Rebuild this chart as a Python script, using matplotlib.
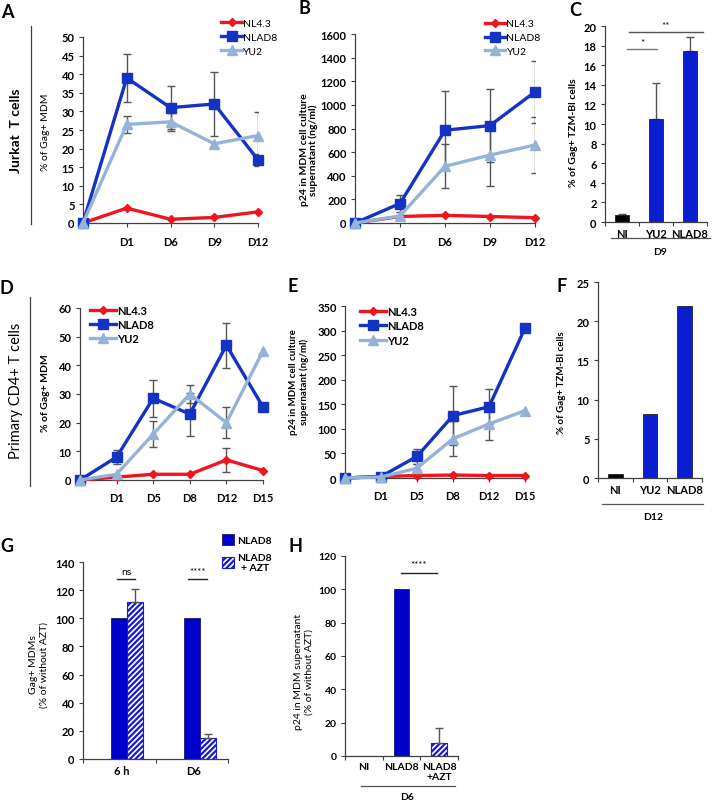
import numpy as np
import matplotlib
matplotlib.use("Agg")
import matplotlib.pyplot as plt
from matplotlib.lines import Line2D

plt.rcParams['font.family'] = ['Lato', 'DejaVu Sans']
plt.rcParams['hatch.linewidth'] = 1.6

# ---------------- data ----------------
A_days = ['', 'D1', 'D6', 'D9', 'D12']
A_nl43 = [0, 4, 1, 1.5, 3]
A_nlad8 = [0, 39, 31, 32, 17]
A_nlad8_err = [0, 6.5, 5.7, 8.7, 1.6]
A_yu2 = [0, 26.5, 27.2, 21.3, 23.5]
A_yu2_err = [0, 2.3, 2.4, 0, 6.3]

B_days = ['', 'D1', 'D6', 'D9', 'D12']
B_nl43 = [0, 55, 65, 55, 45]
B_nlad8 = [0, 165, 785, 825, 1110]
B_nlad8_err = [0, 70, 330, 310, 265]
B_yu2 = [0, 60, 480, 575, 660]
B_yu2_err = [0, 0, 185, 265, 240]

C_cats = ['NI', 'YU2', 'NLAD8']
C_vals = [0.7, 10.5, 17.5]
C_err = [0.1, 3.7, 1.4]

D_days = ['', 'D1', 'D5', 'D8', 'D12', 'D15']
D_nl43 = [0, 1, 2, 2, 7, 3.3]
D_nl43_err = [0, 0, 0, 0, 4.3, 0]
D_nlad8 = [0, 8, 28.5, 23, 47, 25.5]
D_nlad8_err = [0, 2.5, 6.5, 7.5, 7.8, 0]
D_yu2 = [0, 2, 16, 30, 20, 45]
D_yu2_err = [0, 0, 4.5, 3, 5.5, 0]

E_days = ['', 'D1', 'D5', 'D8', 'D12', 'D15']
E_nl43 = [0, 3, 5, 6, 5, 5]
E_nlad8 = [0, 3, 44, 127, 145, 305]
E_nlad8_err = [0, 0, 15, 60, 36, 0]
E_yu2 = [0, 2, 20, 80, 110, 137]
E_yu2_err = [0, 0, 8, 35, 32, 0]

F_cats = ['NI', 'YU2', 'NLAD8']
F_vals = [0.5, 8.2, 22]

G_cats = ['6 h', 'D6']
G_nlad8 = [100, 100]
G_azt = [111.5, 15]
G_azt_err = [9.5, 2.5]

H_cats = ['NI', 'NLAD8', 'NLAD8\n+AZT']
H_vals = [0, 100, 8]
H_err = [0, 0, 9]

# ---------------- style ----------------
W, Hh = 713, 803
fig = plt.figure(figsize=(W / 100, Hh / 100), dpi=100)

RED = '#f0141e'
BLUE = '#1432c3'
LBLUE = '#95b3d7'
BARBLUE = '#0a1ecf'
ERR = '#555555'
AXC = '#404040'
TFS = 8


def px_ax(x0, y0, x1, y1):
    return fig.add_axes([x0 / W, 1 - y1 / Hh, (x1 - x0) / W, (y1 - y0) / Hh])


def ftext(x, y, s, **kw):
    fig.text(x / W, 1 - y / Hh, s, **kw)


def fline(x0, x1, y0, y1, color=AXC, lw=0.9):
    fig.add_artist(Line2D([x0 / W, x1 / W], [1 - y0 / Hh, 1 - y1 / Hh], color=color, lw=lw))


def style_ax(ax, fs=TFS):
    for s in ['top', 'right']:
        ax.spines[s].set_visible(False)
    for s in ['left', 'bottom']:
        ax.spines[s].set_color(AXC)
        ax.spines[s].set_linewidth(0.9)
    ax.tick_params(axis='both', which='both', direction='out', length=3, width=0.8,
                   color=AXC, labelsize=fs, pad=3)
    for lab in (ax.get_yticklabels() + ax.get_xticklabels()
                + ax.get_xticklabels(minor=True)):
        lab.set_fontweight('bold')


def line_panel(ax, days, series, ymax, ystep):
    x = np.arange(len(days))
    for vals, err, color, marker, ms, label in series:
        ax.plot(x, vals, color=color, lw=2.4, marker=marker, ms=ms, clip_on=False,
                label=label, zorder=3)
        if err is not None:
            err = np.array(err, dtype=float)
            idx = err > 0
            ax.errorbar(x[idx], np.array(vals)[idx], yerr=err[idx], fmt='none',
                        ecolor=ERR, elinewidth=1.0, capsize=3, capthick=1.0, zorder=2)
    ax.set_xlim(0, len(days) - 1)
    ax.set_ylim(0, ymax)
    ax.set_yticks(np.arange(0, ymax + ystep / 2, ystep))
    ax.set_xticks(x)
    ax.set_xticklabels(days)
    style_ax(ax)
    ax.tick_params(axis='x', pad=6)


def series3(nl, nl_err, ad, ad_err, yu, yu_err):
    return [(nl, nl_err, RED, 'D', 4.5, 'NL4.3'),
            (ad, ad_err, BLUE, 's', 7, 'NLAD8'),
            (yu, yu_err, LBLUE, '^', 7.5, 'YU2')]


def add_legend(ax, x, y, bold, fs=7.5, hl=2.0, ls=0.45):
    leg = ax.legend(loc='upper left', bbox_to_anchor=(x, y), frameon=False,
                    handlelength=hl, handletextpad=0.1, labelspacing=ls,
                    borderpad=0, borderaxespad=0,
                    prop={'weight': 'bold' if bold else 'normal', 'size': fs})
    return leg


def cat_bar_axes(ax, cats, xmax, fs=TFS, offset=0.5):
    ax.set_xlim(0, xmax)
    ax.set_xticks(np.arange(0, xmax + 1))
    ax.set_xticklabels([])
    centers = np.arange(len(cats)) + offset
    ax.set_xticks(centers, labels=cats, minor=True)
    style_ax(ax, fs)
    ax.tick_params(axis='x', which='minor', length=0, pad=4)


# ---------------- A ----------------
axA = px_ax(83, 38, 258, 224)
line_panel(axA, A_days, series3(A_nl43, None, A_nlad8, A_nlad8_err, A_yu2, A_yu2_err), 50, 5)
add_legend(axA, 0.79, 1.10, False)
ftext(46, 132, '% of Gag+ MDM', rotation=90, ha='center', va='center', fontsize=7.5)
ftext(16, 131, 'Jurkat  T cells', rotation=90, ha='center', va='center', fontsize=10,
      fontweight='bold')
fline(31, 31, 27, 225)

# ---------------- B ----------------
axB = px_ax(355, 35, 535, 224)
line_panel(axB, B_days, series3(B_nl43, None, B_nlad8, B_nlad8_err, B_yu2, B_yu2_err), 1600, 200)
add_legend(axB, 0.72, 1.08, False)
ftext(309, 150, 'p24 in MDM cell culture\nsupernatant (ng/ml)', rotation=90, ha='center',
      va='center', fontsize=7.5, fontweight='bold', linespacing=1.05)

# ---------------- C ----------------
axC = px_ax(605, 27, 707, 223)
xc = np.arange(len(C_cats)) + 0.5
axC.bar(xc, C_vals, width=0.42, color=['#000000', BARBLUE, BARBLUE], edgecolor='#222222',
        lw=0.6, zorder=2)
axC.errorbar(xc, C_vals, yerr=[[0, 0, 0], C_err], fmt='none', ecolor=ERR, elinewidth=1.0,
             capsize=3, capthick=1.0, zorder=1)
axC.set_ylim(0, 20)
axC.set_yticks(np.arange(0, 21, 2))
cat_bar_axes(axC, C_cats, 3, fs=8)
axC.plot([0.65, 1.53], [17.7, 17.7], color='#777777', lw=1.0, clip_on=False)
axC.text(1.09, 17.9, '*', ha='center', va='bottom', fontsize=7)
axC.plot([0.7, 2.88], [19.4, 19.4], color='#555555', lw=1.0, clip_on=False)
axC.text(1.79, 19.6, '**', ha='center', va='bottom', fontsize=7)
ftext(573, 133, '% of Gag+ TZM-Bl cells', rotation=90, ha='center', va='center', fontsize=7.5,
      fontweight='bold')
fline(611, 710, 239, 239, color='#555555')
ftext(660, 253, 'D9', ha='center', va='center', fontsize=7.5, fontweight='bold')

# ---------------- D ----------------
axD = px_ax(80, 309, 263, 481)
line_panel(axD, D_days, series3(D_nl43, D_nl43_err, D_nlad8, D_nlad8_err, D_yu2, D_yu2_err), 60, 10)
add_legend(axD, 0.055, 1.02, True, fs=8, hl=2.3, ls=0.3)
ftext(46, 393, '% of Gag+ MDM', rotation=90, ha='center', va='center', fontsize=7.5,
      fontweight='bold')
ftext(16, 391, 'Primary CD4+ T cells', rotation=90, ha='center', va='center', fontsize=10.5)
fline(30, 30, 298, 487)

# ---------------- E ----------------
axE = px_ax(345, 307, 525, 479)
line_panel(axE, E_days, series3(E_nl43, None, E_nlad8, E_nlad8_err, E_yu2, E_yu2_err), 350, 50)
add_legend(axE, 0.085, 1.0, True, fs=8, hl=2.3, ls=0.3)
ftext(299, 382, 'p24 in MDM cell culture\nsupernatant (ng/ml)', rotation=90, ha='center',
      va='center', fontsize=7, fontweight='bold', linespacing=1.15)

# ---------------- F ----------------
axF = px_ax(598, 283, 702, 479)
xf = np.arange(len(F_cats)) + 0.5
axF.bar(xf, F_vals, width=0.43, color=['#000000', BARBLUE, BARBLUE], edgecolor='#222222',
        lw=0.6)
axF.set_ylim(0, 25)
axF.set_yticks(np.arange(0, 26, 5))
cat_bar_axes(axF, F_cats, 3, fs=8)
ftext(561, 383, '% of Gag+ TZM-Bl cells', rotation=90, ha='center', va='center', fontsize=7,
      fontweight='bold')
fline(602, 703, 505, 505, color='#555555')
ftext(653, 517, 'D12', ha='center', va='center', fontsize=7.5, fontweight='bold')

# ---------------- G ----------------
axG = px_ax(83, 563, 228, 760)
xg = np.arange(len(G_cats))
axG.bar(xg + 0.5, G_nlad8, width=0.22, color='#0000cc', edgecolor='#1a1a66', lw=0.6,
        label='NLAD8')
axG.bar(xg + 0.72, G_azt, width=0.22, color='white', edgecolor='#1a1acc', hatch='//////',
        lw=0.8, label='NLAD8\n+ AZT')
axG.errorbar(xg + 0.72, G_azt, yerr=[[0, 0], G_azt_err], fmt='none', ecolor=ERR,
             elinewidth=1.0, capsize=3, capthick=1.0)
axG.set_ylim(0, 140)
axG.set_yticks(np.arange(0, 141, 20))
cat_bar_axes(axG, G_cats, 2, fs=8, offset=0.53)
axG.plot([0.47, 0.72], [128, 128], color='#222222', lw=1.0)
axG.text(0.595, 130, 'ns', ha='center', va='bottom', fontsize=7.5)
axG.plot([1.45, 1.71], [128, 128], color='#222222', lw=1.0)
axG.text(1.58, 130, '****', ha='center', va='bottom', fontsize=7)
legG = axG.legend(loc='upper left', bbox_to_anchor=(0.96, 1.14), frameon=False,
                  handlelength=1.1, handleheight=1.2, handletextpad=0.35, labelspacing=0.7,
                  borderpad=0, borderaxespad=0, prop={'weight': 'bold', 'size': 7.5})
for t in legG.get_texts():
    t.set_multialignment('center')
ftext(39, 665, 'Gag+ MDMs\n(% of without AZT)', rotation=90, ha='center', va='center',
      fontsize=7.5, linespacing=1.15)

# ---------------- H ----------------
axH = px_ax(345, 557, 458, 757)
xh = np.arange(len(H_cats)) + 0.5
axH.bar(xh[1], H_vals[1], width=0.42, color='#0000cc', edgecolor='#1a1a66', lw=0.6)
axH.bar(xh[2], H_vals[2], width=0.42, color='white', edgecolor='#1a1acc', hatch='//////',
        lw=0.8)
axH.errorbar(xh[2], H_vals[2], yerr=[[0], [H_err[2]]], fmt='none', ecolor=ERR,
             elinewidth=1.0, capsize=3, capthick=1.0)
axH.set_ylim(0, 120)
axH.set_yticks(np.arange(0, 121, 20))
cat_bar_axes(axH, H_cats, 3, fs=7.5)
axH.plot([1.49, 2.44], [110, 110], color='#222222', lw=1.0)
axH.text(1.96, 112, '****', ha='center', va='bottom', fontsize=7)
ftext(304, 672, 'p24 in MDM supernatant\n(% of without AZT)', rotation=90, ha='center',
      va='center', fontsize=7.5, linespacing=1.15)
fline(361, 455, 787, 787, color='#555555')
ftext(407, 798, 'D6', ha='center', va='center', fontsize=7.5, fontweight='bold')

# ---------------- panel letters ----------------
for letter, x, y in [('A', 7, 13), ('B', 304, 8), ('C', 575, 10), ('D', 6, 288),
                     ('E', 293, 287), ('F', 562, 287), ('G', 7, 547), ('H', 295, 547)]:
    ftext(x, y, letter, ha='center', va='center', fontsize=13, fontweight='bold')

fig.savefig('out.png', dpi=100)
